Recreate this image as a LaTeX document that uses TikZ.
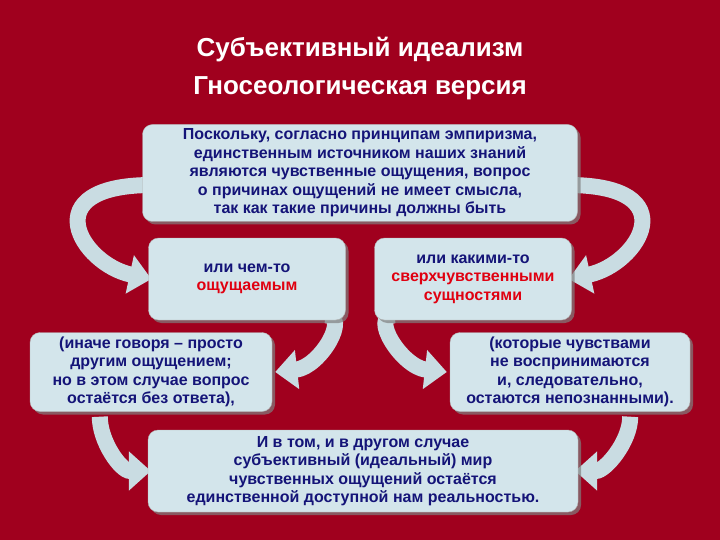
\documentclass[tikz,border=0pt]{standalone}
\usepackage{fontspec}
\setmainfont{Liberation Sans}
\usetikzlibrary{arrows.meta,shadows,backgrounds}
\definecolor{bg}{HTML}{A0001E}
\definecolor{boxf}{HTML}{D3E5EB}
\definecolor{arr}{HTML}{C9DCE2}
\definecolor{navy}{HTML}{141478}
\definecolor{rd}{HTML}{E00010}
\tikzset{
 box/.style={draw=gray!60,fill=boxf,rounded corners=10pt,align=center,text=navy,
   font=\bfseries\fontsize{16}{18.5}\selectfont,inner sep=3pt,
   drop shadow={opacity=0.7,shadow xshift=3pt,shadow yshift=-3pt}},
 band/.style={draw=arr,line width=16pt,-{Triangle[width=38pt,length=22pt]}},
 ttl/.style={text=white,font=\bfseries\fontsize{26}{29}\selectfont}
}
\begin{document}
\begin{tikzpicture}[x=1pt,y=-1pt]
\useasboundingbox (0,0) rectangle (720,540);
\node[ttl] (t1) at (360,50) {Субъективный идеализм};
\node[ttl] (t2) at (360,88) {Гносеологическая версия};
\node[box,minimum width=435pt,minimum height=97pt] (top) at (360,173) {Поскольку, согласно принципам эмпиризма,\\единственным источником наших знаний\\являются чувственные ощущения, вопрос\\о причинах ощущений не имеет смысла,\\так как такие причины должны быть};
\node[box,minimum width=197pt,minimum height=82pt] (lm) at (247,279) {или чем-то\\\textcolor{rd}{ощущаемым}};
\node[box,minimum width=197pt,minimum height=82pt] (rm) at (473,279) {или какими-то\\\textcolor{rd}{сверхчувственными}\\\textcolor{rd}{сущностями}};
\node[box,minimum width=242pt,minimum height=79pt] (lb) at (151,372) {(иначе говоря – просто\\другим ощущением;\\но в этом случае вопрос\\остаётся без ответа),};
\node[box,minimum width=240pt,minimum height=79pt] (rb) at (570,372) {(которые чувствами\\не воспринимаются\\и, следовательно,\\остаются непознанными).};
\node[box,minimum width=430pt,minimum height=82pt] (bt) at (363,471) {И в том, и в другом случае\\субъективный (идеальный) мир\\чувственных ощущений остаётся\\единственной доступной нам реальностью.};
\begin{scope}[on background layer]
\fill[bg] (0,0) rectangle (720,540);
\draw[band] ([xshift=10pt,yshift=-12pt]top.west) .. controls +(-120,0) and +(-70,-15) .. ([xshift=3pt]lm.west);
\draw[band] ([xshift=-10pt,yshift=-12pt]top.east) .. controls +(120,0) and +(70,-15) .. ([xshift=-3pt]rm.east);
\draw[band] ([xshift=-20pt,yshift=5pt]lm.south east) .. controls +(25,0) and +(45,-5) .. ([xshift=3pt]lb.east);
\draw[band] ([xshift=20pt,yshift=5pt]rm.south west) .. controls +(-25,0) and +(-45,-5) .. ([xshift=-3pt]rb.west);
\draw[band] ([xshift=70pt,yshift=-5pt]lb.south west) .. controls +(0,25) and +(-30,0) .. ([xshift=3pt]bt.west);
\draw[band] ([xshift=-60pt,yshift=-5pt]rb.south east) .. controls +(0,25) and +(30,0) .. ([xshift=-3pt]bt.east);
\end{scope}
\end{tikzpicture}
\end{document}
